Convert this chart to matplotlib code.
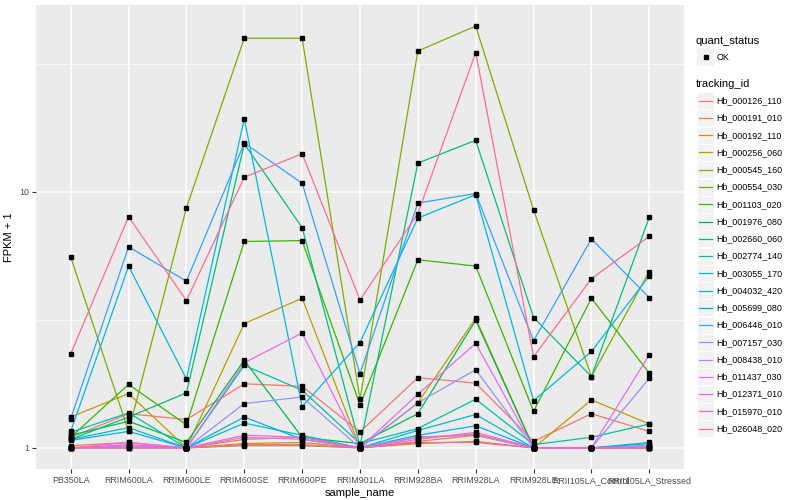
import numpy as np
import matplotlib
matplotlib.use("Agg")
import matplotlib.pyplot as plt
from matplotlib.lines import Line2D
from matplotlib.patches import Rectangle

plt.rcParams['font.family'] = ['Liberation Sans', 'DejaVu Sans']

samples = ["PB350LA", "RRIM600LA", "RRIM600LE", "RRIM600SE", "RRIM600PE", "RRIM901LA",
           "RRIM928BA", "RRIM928LA", "RRIM928LE", "RRII105LA_Control", "RRII105LA_Stressed"]

tracking_ids = ["Hb_000126_110", "Hb_000191_010", "Hb_000192_110", "Hb_000256_060",
                "Hb_000545_160", "Hb_000554_030", "Hb_001103_020", "Hb_001976_080",
                "Hb_002660_060", "Hb_002774_140", "Hb_003055_170", "Hb_004032_420",
                "Hb_005699_080", "Hb_006446_010", "Hb_007157_030", "Hb_008438_010",
                "Hb_011437_030", "Hb_012371_010", "Hb_015970_010", "Hb_026048_020"]

# FPKM + 1 per sample (order as in `samples`)
hb_000126_110 = [1.10, 1.36, 1.29, 1.78, 1.74, 1.155, 1.88, 1.79, 1.06, 1.36, 1.16]
hb_000191_010 = [1.02, 1.05, 1.00, 1.08, 1.10, 1.00, 1.06, 1.12, 1.00, 1.00, 1.00]
hb_000192_110 = [1.00, 1.02, 1.00, 1.04, 1.05, 1.00, 1.10, 1.13, 1.00, 1.00, 1.00]
hb_000256_060 = [1.32, 1.63, 1.00, 3.06, 3.84, 1.00, 1.50, 3.21, 1.00, 1.54, 1.24]
hb_000545_160 = [1.00, 1.00, 1.00, 1.02, 1.02, 1.00, 1.04, 1.06, 1.00, 1.00, 1.00]
hb_000554_030 = [5.57, 1.16, 8.66, 39.8, 39.8, 1.55, 35.5, 44.4, 8.50, 1.90, 4.88]
hb_001103_020 = [1.10, 1.77, 1.23, 6.40, 6.45, 1.47, 5.43, 5.13, 1.39, 3.84, 1.96]
hb_001976_080 = [1.12, 1.27, 1.05, 2.20, 1.10, 1.04, 1.36, 3.15, 1.00, 1.00, 1.02]
hb_002660_060 = [1.08, 1.32, 1.64, 15.4, 7.25, 1.02, 12.95, 15.9, 3.23, 1.90, 7.96]
hb_002774_140 = [1.15, 1.37, 1.00, 2.10, 1.68, 1.04, 1.19, 1.55, 1.03, 1.10, 1.24]
hb_003055_170 = [1.08, 1.20, 1.00, 1.25, 1.12, 1.00, 1.17, 1.35, 1.00, 1.00, 1.05]
hb_004032_420 = [1.16, 5.13, 1.86, 19.3, 1.45, 2.58, 7.90, 9.75, 1.53, 2.38, 4.70]
hb_005699_080 = [1.07, 1.16, 1.00, 1.32, 1.08, 1.00, 1.12, 1.22, 1.00, 1.00, 1.04]
hb_006446_010 = [1.30, 6.10, 4.48, 15.5, 10.8, 1.95, 9.04, 9.85, 2.62, 6.55, 3.86]
hb_007157_030 = [1.00, 1.00, 1.00, 1.49, 1.58, 1.00, 1.50, 2.02, 1.00, 1.00, 1.87]
hb_008438_010 = [1.00, 1.02, 1.00, 1.10, 1.08, 1.00, 1.10, 1.12, 1.00, 1.00, 1.02]
hb_011437_030 = [1.00, 1.05, 1.00, 2.15, 2.81, 1.00, 1.62, 2.56, 1.00, 1.00, 2.31]
hb_012371_010 = [1.00, 1.03, 1.00, 1.12, 1.10, 1.00, 1.08, 1.15, 1.00, 1.00, 1.00]
hb_015970_010 = [1.00, 1.00, 1.00, 1.03, 1.03, 1.00, 1.05, 1.05, 1.00, 1.00, 1.00]
hb_026048_020 = [2.33, 8.00, 3.76, 11.4, 14.1, 3.78, 8.23, 35.0, 2.27, 4.58, 6.70]

series = [hb_000126_110, hb_000191_010, hb_000192_110, hb_000256_060, hb_000545_160,
          hb_000554_030, hb_001103_020, hb_001976_080, hb_002660_060, hb_002774_140,
          hb_003055_170, hb_004032_420, hb_005699_080, hb_006446_010, hb_007157_030,
          hb_008438_010, hb_011437_030, hb_012371_010, hb_015970_010, hb_026048_020]

colors = ["#F8766D", "#EA8331", "#D89000", "#C09B00", "#A3A500", "#7CAE00", "#39B600",
          "#00BB4E", "#00BF7D", "#00C1A3", "#00BFC4", "#00BAE0", "#00B0F6", "#35A2FF",
          "#9590FF", "#C77CFF", "#E76BF3", "#FA62DB", "#FF62BC", "#FF6C91"]

W, H = 800, 500
fig = plt.figure(figsize=(8, 5), dpi=100)
L, R, T, B = 36, 684, 5, 469
ax = fig.add_axes([L / W, (H - B) / H, (R - L) / W, (B - T) / H])
ax.set_facecolor("#EBEBEB")
for s in ax.spines.values():
    s.set_visible(False)

x = np.arange(len(samples))
for vals, c in zip(series, colors):
    ax.plot(x, vals, color=c, lw=0.9, zorder=3, solid_capstyle='butt')
for vals in series:
    ax.plot(x, vals, ls='none', marker='s', ms=2.6, color='black', zorder=4)

ax.set_yscale('log')
allv = np.concatenate([np.log10(v) for v in series])
lo, hi = allv.min(), allv.max()
pad = 0.05 * (hi - lo)
ax.set_ylim(10 ** (lo - pad), 10 ** (hi + pad))
ax.set_xlim(-0.6, len(samples) - 1 + 0.6)

ax.set_yticks([1, 10])
ax.set_yticklabels(["1", "10"])
ax.yaxis.set_minor_locator(matplotlib.ticker.NullLocator())
ax.set_xticks(x)
ax.set_xticklabels(samples)
ax.tick_params(axis='both', colors='#333333', length=3, width=0.8, labelsize=6.4,
               labelcolor='#4D4D4D', pad=2)
ax.grid(True, which='major', color='white', lw=1.1, zorder=1)
for m in [10 ** 0.5, 10 ** 1.5]:
    ax.axhline(m, color='white', lw=0.5, zorder=1)
ax.set_axisbelow(True)

ax.set_xlabel("sample_name", fontsize=8, labelpad=2)
ax.set_ylabel("FPKM + 1", fontsize=8, labelpad=4)

# legend (drawn in pixel coordinates of the figure)
def fx(px):
    return px / W

def fy(py):
    return (H - py) / H

fig.text(fx(696), fy(40.5), "quant_status", fontsize=8, va='center', ha='left')
fig.patches.append(Rectangle((fx(697), fy(65.5)), 17 / W, 17 / H, transform=fig.transFigure,
                             facecolor='#F2F2F2', edgecolor='none'))
fig.lines.append(Line2D([fx(705.5)], [fy(57)], transform=fig.transFigure, marker='s',
                        ms=2.6, color='black', ls='none'))
fig.text(fx(716.5), fy(57), "OK", fontsize=6.4, va='center', ha='left')

fig.text(fx(696), fy(84), "tracking_id", fontsize=8, va='center', ha='left')
y0, dy = 100.7, 17.26
for i, (tid, c) in enumerate(zip(tracking_ids, colors)):
    yc = y0 + i * dy
    fig.patches.append(Rectangle((fx(697), fy(yc + 8.5)), 17 / W, 17 / H,
                                 transform=fig.transFigure, facecolor='#F2F2F2',
                                 edgecolor='white', lw=0.6))
    fig.lines.append(Line2D([fx(698.5), fx(712)], [fy(yc), fy(yc)], transform=fig.transFigure,
                            color=c, lw=0.9))
    fig.text(fx(716.5), fy(yc), tid, fontsize=6.4, va='center', ha='left')

fig.savefig("out.png", dpi=100)
